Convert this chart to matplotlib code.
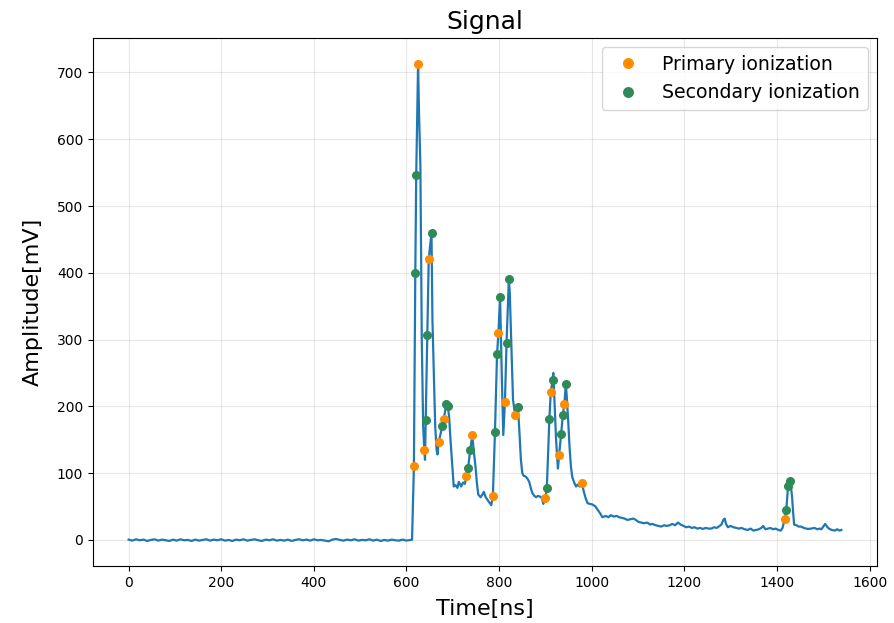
#!/usr/bin/env python3
"""Signal waveform with primary / secondary ionization peaks marked."""

import matplotlib
matplotlib.use("Agg")
import matplotlib.pyplot as plt


# waveform samples (ns, mV)
signal_t = [
    0, 8, 16, 24, 32, 40, 48, 56, 64, 72, 80, 88, 96, 104, 112, 120, 128,
    136, 144, 152, 160, 168, 176, 184, 192, 200, 208, 216, 224, 232, 240,
    248, 256, 264, 272, 280, 288, 296, 304, 312, 320, 328, 336, 344, 352,
    360, 368, 376, 384, 392, 400, 408, 416, 424, 432, 440, 448, 456, 464,
    472, 480, 488, 496, 504, 512, 520, 528, 536, 544, 552, 560, 568, 576,
    584, 592, 600, 608, 612,
    616, 619, 621, 625, 627, 630, 633, 636, 638.5, 640, 641.5, 645, 648,
    651, 654, 656, 659, 662, 665, 667, 669.5, 674, 677.5, 680.5, 686, 689,
    692, 695, 699, 702, 706, 710, 713, 718, 722, 726, 729.5, 733, 737.5,
    742, 745, 749, 752, 755, 760, 764, 767, 771, 775, 779, 783, 786.5, 791,
    795.5, 798.5, 802, 804, 806, 809, 812.5, 816, 819, 821, 823, 826, 830,
    833, 835, 838, 840.5, 844, 847, 850, 853, 857, 861, 865, 869, 872, 876,
    880, 884, 888, 892, 895.5, 900, 903, 908.5, 911.5, 915.5, 917, 920,
    923, 927, 929.5, 934, 937.5, 941, 944, 946, 949, 952, 955, 958, 962,
    966, 970, 974, 978.5, 983, 987, 991, 996, 1002, 1008, 1013, 1018, 1023,
    1030, 1036, 1041, 1048, 1054, 1059, 1065, 1071, 1077, 1084, 1090, 1095,
    1101, 1107, 1113, 1120, 1126, 1131, 1138, 1144, 1150, 1156, 1162, 1168,
    1174, 1180, 1186, 1192, 1198, 1204, 1210, 1216, 1222, 1228, 1234, 1240,
    1246, 1252, 1258, 1264, 1270, 1276, 1280, 1284, 1287, 1290, 1294, 1300,
    1306, 1312, 1318, 1323, 1330, 1337, 1343, 1349, 1355, 1361, 1366, 1370,
    1375, 1381, 1386, 1391, 1397, 1403, 1408, 1412, 1416.5, 1420, 1424,
    1427.5, 1430, 1432.5, 1435, 1437, 1442, 1447, 1452, 1458, 1463, 1467,
    1474, 1481, 1487, 1492, 1496, 1500, 1504, 1508, 1512, 1518, 1525, 1530,
    1535, 1539,
]
signal_v = [
    0.5, -1, 1, -0.5, 0.5, -1.5, 0, 1, -1, 0.5, -0.5, -1.5, 0.5, -1, 1,
    -0.5, 0, -1.5, 0.5, -1, 0, 1, -1, 0.5, -0.5, 1, -1, 0, -1.5, 0.5, -0.5,
    1, -1, 0, 1, -0.5, -1.5, 0.5, -0.5, 1, -1, 0, -1, 0.5, -1.5, 0, 1,
    -0.5, 0.5, -1, 1, -0.5, 0, -1, -2, 0.5, 1.5, 0, -1, 0.5, -0.5, 1, -1,
    0, -0.5, 1, -1, 0.5, -1.5, 0, -1, 0.5, -0.5, -1, 0.5, -1, 0, 0.5,
    110, 399, 546, 712, 640, 560, 300, 170, 134, 120, 180, 307, 420,
    440, 460, 330, 250, 170, 135, 128, 147, 160, 171, 181, 204, 200,
    185, 150, 110, 80, 82, 78, 87, 80, 86, 84, 95, 108, 134,
    157, 135, 110, 85, 68, 64, 68, 72, 64, 60, 56, 52, 66, 161,
    278, 310, 364, 300, 240, 157, 206, 295, 350, 390, 370, 300, 210,
    195, 187, 185, 199, 160, 120, 100, 96, 95, 92, 87, 76, 70, 66,
    64, 66, 65, 63, 54, 63, 78, 181, 221, 240, 250, 200,
    150, 107, 127, 159, 187, 204, 234, 215, 180, 140, 110, 94, 86,
    80, 83, 80, 85, 72, 62, 55, 54, 53, 50, 45, 40, 34,
    36, 34, 37, 35, 36, 34, 33, 32, 30, 31, 32, 30,
    27, 26, 25, 26, 23, 24, 22, 21, 20, 22, 21, 22,
    24, 22, 26, 23, 21, 19, 20, 18, 19, 17, 18, 16.5,
    18, 17, 17, 19, 18, 21, 23, 30, 32, 24, 19, 21,
    19, 18, 17, 18, 16, 15, 17, 14, 15, 16, 18, 21,
    16, 17, 18, 16, 17, 15, 14, 18, 31, 45, 81,
    89, 80, 65, 40, 23, 22, 20, 20, 18, 17, 16.5,
    17, 18, 16, 17, 16, 20, 24, 20, 17, 15, 14, 16,
    14, 15,
]

primary_t = [616, 625, 638.5, 648, 669.5, 680.5, 729.5, 742, 786.5, 798.5,
             812.5, 835, 900, 911.5, 929.5, 941, 978.5, 1416.5]
primary_v = [110, 712, 134, 420, 147, 181, 95, 157, 66, 310,
             206, 187, 63, 221, 127, 204, 85, 31]

secondary_t = [619, 621, 641.5, 645, 654, 677.5, 686, 689, 733, 737.5, 791,
               795.5, 802, 816, 821, 840.5, 903, 908.5, 915.5, 934, 937.5,
               944, 1420, 1424, 1427.5]
secondary_v = [399, 546, 180, 307, 460, 171, 204, 200, 108, 134, 161,
               278, 364, 295, 390, 199, 78, 181, 240, 159, 187,
               234, 45, 81, 89]


def main() -> None:
    fig = plt.figure(figsize=(8.94, 6.23), dpi=100)
    ax = fig.add_axes([0.104, 0.0915, 0.877, 0.848])

    ax.plot(signal_t, signal_v, color="#1f77b4", lw=1.6)
    ax.plot(primary_t, primary_v, "o", color="#ff8c00", ms=5.5,
            label="Primary ionization")
    ax.plot(secondary_t, secondary_v, "o", color="#2e8b57", ms=5.5,
            label="Secondary ionization")

    ax.set_ylim(-39, 752)
    ax.set_xticks(range(0, 1601, 200))
    ax.set_yticks(range(0, 701, 100))
    ax.tick_params(labelsize=10)
    ax.set_xlabel("Time[ns]", fontsize=16, labelpad=7)
    ax.set_ylabel("Amplitude[mV]", fontsize=16, labelpad=10)
    ax.set_title("Signal", fontsize=18)
    ax.grid(alpha=0.3)
    ax.legend(loc="upper right", fontsize=13.6, handletextpad=0.8,
              markerscale=1.25, borderaxespad=0.5)

    fig.savefig("out.png", dpi=100, facecolor="white")
    plt.close(fig)


if __name__ == "__main__":
    main()
